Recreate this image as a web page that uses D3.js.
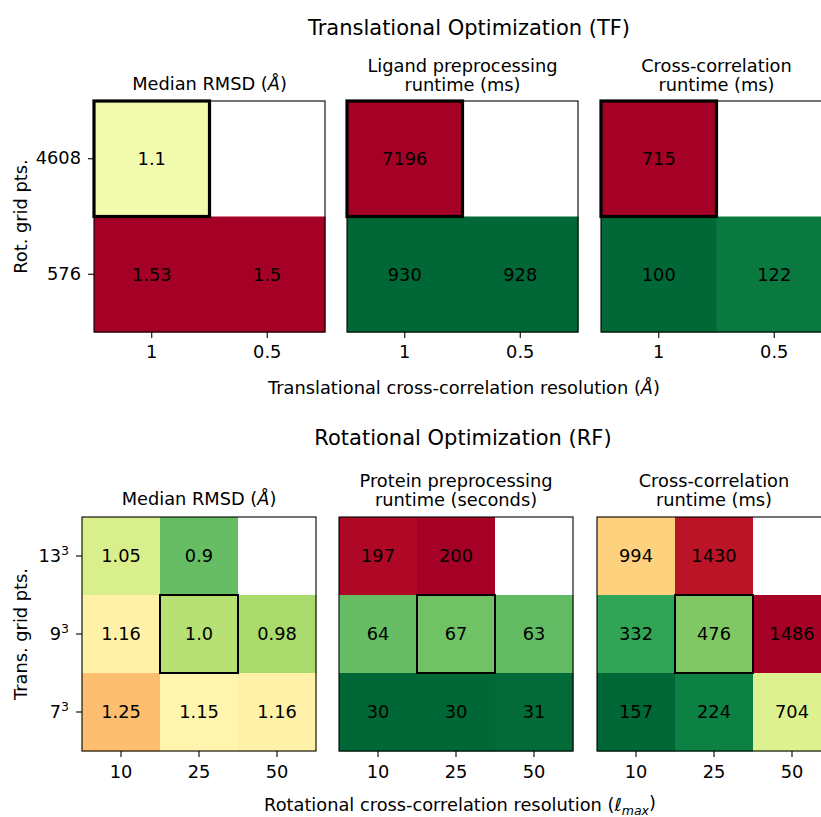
<!DOCTYPE html>
<html>
<head>
<meta charset="utf-8">
<script src="https://cdn.jsdelivr.net/npm/d3@7"></script>
<style>
  body { margin: 0; background: #fff; }
  svg { font-family: "DejaVu Sans", sans-serif; }
</style>
</head>
<body>
<svg id="chart" width="821" height="817"></svg>
<script>
// ---- data ----
let tfRows = ["4608", "576"];
let tfCols = ["1", "0.5"];
let tfRmsd = [[1.1, null], [1.53, 1.5]];
let tfLigand = [[7196, null], [930, 928]];
let tfCross = [[715, null], [100, 122]];
let tfBest = [0, 0]; // row, col of the chosen setting

let rfRows = ["13", "9", "7"]; // shown with a cube superscript
let rfCols = ["10", "25", "50"];
let rfRmsd = [[1.05, 0.9, null], [1.16, 1.0, 0.98], [1.25, 1.15, 1.16]];
let rfProtein = [[197, 200, null], [64, 67, 63], [30, 30, 31]];
let rfCross = [[994, 1430, null], [332, 476, 1486], [157, 224, 704]];
let rfBest = [1, 1];

let rmsdRange = [0.75, 1.5];

// RdYlGn (matplotlib), reversed so low = green
let rdylgn = ["#a50026", "#d73027", "#f46d43", "#fdae61", "#fee08b", "#ffffbf",
  "#d9ef8b", "#a6d96a", "#66bd63", "#1a9850", "#006837"].reverse();

let svg = d3.select("#chart");
let fontSize = 17.8;
let bigFont = 21;

function colorFor(domain) {
  let stops = d3.range(rdylgn.length).map(i => domain[0] + (domain[1] - domain[0]) * i / (rdylgn.length - 1));
  return d3.scaleLinear().domain(stops).range(rdylgn).clamp(true);
}

function extent2d(m) {
  return d3.extent(m.flat().filter(v => v != null));
}

// draw one heatmap panel
function heatmap(opts) {
  let g = svg.append("g").attr("transform", `translate(${opts.x},${opts.y})`);
  let x = d3.scaleBand().domain(opts.cols).range([0, opts.size]);
  let y = d3.scaleBand().domain(opts.rows).range([0, opts.size]);
  let color = colorFor(opts.domain || extent2d(opts.values));

  let cells = [];
  opts.values.forEach((row, i) => row.forEach((v, j) => {
    cells.push({ r: opts.rows[i], c: opts.cols[j], v: v });
  }));

  g.selectAll("rect.cell")
    .data(cells)
    .enter().append("rect")
    .attr("class", "cell")
    .attr("x", d => x(d.c))
    .attr("y", d => y(d.r))
    .attr("width", x.bandwidth() + 0.5)
    .attr("height", y.bandwidth() + 0.5)
    .attr("fill", d => d.v == null ? "#fff" : color(d.v));

  g.selectAll("text.val")
    .data(cells.filter(d => d.v != null))
    .enter().append("text")
    .attr("class", "val")
    .attr("x", d => x(d.c) + x.bandwidth() / 2)
    .attr("y", d => y(d.r) + y.bandwidth() / 2)
    .attr("text-anchor", "middle")
    .attr("dy", "0.36em")
    .attr("font-size", fontSize)
    .text(d => opts.format(d.v));

  // frame
  g.append("rect")
    .attr("width", opts.size)
    .attr("height", opts.size)
    .attr("fill", "none")
    .attr("stroke", "#000")
    .attr("stroke-width", 1.1);

  // chosen setting
  g.append("rect")
    .attr("x", x(opts.cols[opts.best[1]]))
    .attr("y", y(opts.rows[opts.best[0]]))
    .attr("width", x.bandwidth())
    .attr("height", y.bandwidth())
    .attr("fill", "none")
    .attr("stroke", "#000")
    .attr("stroke-width", opts.bestWidth);

  let xAxis = g.append("g")
    .attr("transform", `translate(0,${opts.size})`)
    .call(d3.axisBottom(x).tickSize(6).tickSizeOuter(0).tickPadding(opts.xPad));
  xAxis.select(".domain").remove();
  xAxis.selectAll("text").attr("font-size", fontSize).attr("fill", "#000")
    .attr("font-family", "DejaVu Sans");
  xAxis.selectAll("line").attr("stroke", "#000").attr("stroke-width", 1.1);

  if (opts.yAxis) {
    let yAxis = g.append("g")
      .call(d3.axisLeft(y).tickSize(6).tickSizeOuter(0).tickPadding(7));
    yAxis.select(".domain").remove();
    yAxis.selectAll("line").attr("stroke", "#000").attr("stroke-width", 1.1);
    yAxis.selectAll("text").attr("font-size", fontSize).attr("fill", "#000")
      .attr("font-family", "DejaVu Sans");
    if (opts.cube) {
      yAxis.selectAll("text").text(null).each(function(d) {
        let t = d3.select(this);
        t.append("tspan").text(d);
        t.append("tspan").attr("font-size", 12.5).attr("dy", "-0.55em").text("3");
      });
    }
  }

  // title, one or two lines
  let title = g.append("text")
    .attr("x", opts.size / 2)
    .attr("text-anchor", "middle")
    .attr("font-size", fontSize);
  opts.title.forEach((line, k) => {
    let ts = title.append("tspan")
      .attr("x", opts.size / 2)
      .attr("y", -opts.titleGap - (opts.title.length - 1 - k) * 19.5);
    if (line.endsWith("(Å)")) {
      ts.append("tspan").text(line.slice(0, -3) + "(");
      ts.append("tspan").attr("font-style", "italic").text("Å");
      ts.append("tspan").text(")");
    } else {
      ts.text(line);
    }
  });
  return g;
}

let fmtRmsd = v => Number.isInteger(v) ? v.toFixed(1) : String(v);
let fmtInt = v => String(v);

// ---- top row: translational ----
let topY = 101, topSize = 231;
heatmap({ x: 94, y: topY, size: topSize, rows: tfRows, cols: tfCols, values: tfRmsd,
  domain: rmsdRange, format: fmtRmsd, best: tfBest, bestWidth: 3.2, xPad: 7, yAxis: true,
  title: ["Median RMSD (Å)"], titleGap: 11 });
heatmap({ x: 347, y: topY, size: topSize, rows: tfRows, cols: tfCols, values: tfLigand,
  format: fmtInt, best: tfBest, bestWidth: 3.2, xPad: 7,
  title: ["Ligand preprocessing", "runtime (ms)"], titleGap: 10 });
heatmap({ x: 601, y: topY, size: topSize, rows: tfRows, cols: tfCols, values: tfCross,
  format: fmtInt, best: tfBest, bestWidth: 3.2, xPad: 7,
  title: ["Cross-correlation", "runtime (ms)"], titleGap: 10 });

// ---- bottom row: rotational ----
let botY = 517, botSize = 234;
heatmap({ x: 82, y: botY, size: botSize, rows: rfRows, cols: rfCols, values: rfRmsd,
  domain: rmsdRange, format: fmtRmsd, best: rfBest, bestWidth: 2, xPad: 8, yAxis: true, cube: true,
  title: ["Median RMSD (Å)"], titleGap: 12 });
heatmap({ x: 339, y: botY, size: botSize, rows: rfRows, cols: rfCols, values: rfProtein,
  format: fmtInt, best: rfBest, bestWidth: 2, xPad: 8,
  title: ["Protein preprocessing", "runtime (seconds)"], titleGap: 11 });
heatmap({ x: 597, y: botY, size: botSize, rows: rfRows, cols: rfCols, values: rfCross,
  format: fmtInt, best: rfBest, bestWidth: 2, xPad: 8,
  title: ["Cross-correlation", "runtime (ms)"], titleGap: 11 });

// ---- figure-level text ----
svg.append("text").attr("x", 469).attr("y", 35).attr("text-anchor", "middle")
  .attr("font-size", bigFont).text("Translational Optimization (TF)");
svg.append("text").attr("x", 463).attr("y", 445).attr("text-anchor", "middle")
  .attr("font-size", bigFont).text("Rotational Optimization (RF)");

let xl1 = svg.append("text").attr("x", 464).attr("y", 394).attr("text-anchor", "middle")
  .attr("font-size", fontSize);
xl1.append("tspan").text("Translational cross-correlation resolution (");
xl1.append("tspan").attr("font-style", "italic").text("Å");
xl1.append("tspan").text(")");

let xl2 = svg.append("text").attr("x", 460).attr("y", 811).attr("text-anchor", "middle")
  .attr("font-size", fontSize);
xl2.append("tspan").text("Rotational cross-correlation resolution (");
xl2.append("tspan").attr("font-style", "italic").text("ℓ");
xl2.append("tspan").attr("font-style", "italic").attr("font-size", 12.5).attr("dy", "0.3em").text("max");
xl2.append("tspan").attr("dy", "-0.3em").text(")");

svg.append("text").attr("transform", "translate(27,216.5) rotate(-90)")
  .attr("text-anchor", "middle").attr("font-size", fontSize).text("Rot. grid pts.");
svg.append("text").attr("transform", "translate(27,634) rotate(-90)")
  .attr("text-anchor", "middle").attr("font-size", fontSize).text("Trans. grid pts.");
</script>
</body>
</html>
